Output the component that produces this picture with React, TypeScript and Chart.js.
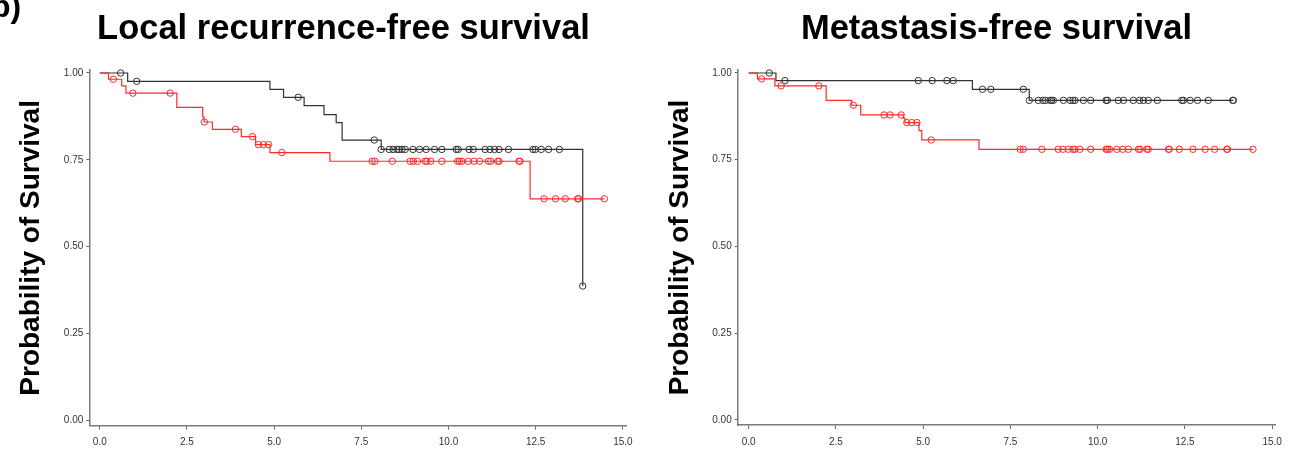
import React, { useEffect, useRef } from "react";
import { Chart, registerables } from "chart.js";

Chart.register(...registerables);

// ---------- tick definitions ----------
const xTicks = [0, 2.5, 5, 7.5, 10, 12.5, 15];
const xTickLabels = ["0.0", "2.5", "5.0", "7.5", "10.0", "12.5", "15.0"];
const yTicks = [0, 0.25, 0.5, 0.75, 1];
const yTickLabels = ["0.00", "0.25", "0.50", "0.75", "1.00"];

// ---------- Local recurrence-free survival ----------
const lrfsBlackTimes = [0, 0.8, 4.88, 5.27, 5.86, 6.43, 6.78, 6.95, 8.07, 13.85];
const lrfsBlackSurv = [1.0, 0.976, 0.953, 0.93, 0.906, 0.88, 0.857, 0.807, 0.78, 0.387];
const lrfsBlackCensor = [0.6, 1.06, 5.69, 7.87, 8.07, 8.3, 8.41, 8.52, 8.58, 8.67, 8.76, 8.98, 9.17, 9.36, 9.6, 9.81, 10.22, 10.28, 10.59, 10.71, 11.05, 11.19, 11.32, 11.45, 11.72, 12.42, 12.49, 12.66, 12.87, 13.18, 13.85];

const lrfsRedTimes = [0, 0.25, 0.63, 0.75, 2.21, 2.95, 2.99, 3.23, 4.06, 4.47, 4.88, 6.6, 12.34, 14.47];
const lrfsRedSurv = [1.0, 0.982, 0.963, 0.942, 0.901, 0.874, 0.859, 0.838, 0.817, 0.794, 0.771, 0.746, 0.638, 0.638];
const lrfsRedCensor = [0.39, 0.95, 2.02, 3.0, 3.89, 4.38, 4.55, 4.69, 4.84, 5.22, 7.81, 7.89, 8.39, 8.9, 8.99, 9.11, 9.33, 9.38, 9.49, 9.81, 10.26, 10.31, 10.38, 10.57, 10.73, 10.89, 11.14, 11.21, 11.41, 11.45, 12.02, 12.05, 12.74, 13.07, 13.35, 13.7, 13.73, 14.47];

// ---------- Metastasis-free survival ----------
const mfsBlackTimes = [0, 0.78, 6.41, 8.04, 13.89];
const mfsBlackSurv = [1.0, 0.978, 0.953, 0.921, 0.921];
const mfsBlackCensor = [0.59, 1.04, 4.86, 5.26, 5.68, 5.86, 6.7, 6.94, 7.87, 8.04, 8.3, 8.43, 8.51, 8.64, 8.68, 8.73, 9.02, 9.21, 9.29, 9.35, 9.59, 9.8, 10.24, 10.28, 10.59, 10.74, 11.02, 11.2, 11.31, 11.45, 11.71, 12.41, 12.46, 12.65, 12.86, 13.17, 13.87, 13.89];

const mfsRedTimes = [0, 0.25, 0.75, 2.22, 2.95, 3.21, 4.43, 4.48, 4.88, 4.96, 6.6, 14.45];
const mfsRedSurv = [1.0, 0.983, 0.963, 0.921, 0.907, 0.879, 0.87, 0.857, 0.834, 0.807, 0.78, 0.78];
const mfsRedCensor = [0.37, 0.93, 2.01, 3.0, 3.88, 4.05, 4.37, 4.53, 4.67, 4.82, 5.23, 7.78, 7.87, 8.4, 8.87, 9.0, 9.16, 9.29, 9.35, 9.49, 9.8, 10.24, 10.28, 10.34, 10.55, 10.72, 10.88, 11.17, 11.22, 11.41, 11.45, 12.03, 12.05, 12.34, 12.73, 13.08, 13.35, 13.7, 13.72, 14.45];

const BLACK = "#333333";
const RED = "#ff2a2a";
const FONT = '"Liberation Sans", Arial, sans-serif';

function survAt(times: number[], surv: number[], t: number) {
  let v = surv[0];
  for (let i = 0; i < times.length; i++) {
    if (times[i] <= t + 1e-9) v = surv[i];
  }
  return v;
}

function stepPoints(times: number[], surv: number[]) {
  return times.map((t, i) => ({ x: t, y: surv[i] }));
}

function censorPoints(times: number[], surv: number[], censor: number[]) {
  return censor.map((t) => ({ x: t, y: survAt(times, surv, t) }));
}

type Cfg = {
  blackTimes: number[];
  blackSurv: number[];
  blackCensor: number[];
  redTimes: number[];
  redSurv: number[];
  redCensor: number[];
  axisLeft: number;
  axisRight: number;
  axisBottom: number;
  xMin: number;
  xMax: number;
  titlePad: number;
};

function KMChart({ cfg, left }: { cfg: Cfg; left: number }) {
  const ref = useRef<HTMLCanvasElement | null>(null);
  useEffect(() => {
    if (!ref.current) return;
    const W = 648;
    const H = 449;
    const lineDs = (pts: any[], color: string) => ({
      type: "line" as const,
      data: pts,
      borderColor: color,
      borderWidth: 1.2,
      stepped: "before" as const,
      pointRadius: 0,
      fill: false,
      clip: false,
    });
    const censorDs = (pts: any[], color: string) => ({
      type: "line" as const,
      data: pts,
      showLine: false,
      pointRadius: 3.2,
      pointBorderWidth: 1,
      pointBorderColor: color,
      pointBackgroundColor: "rgba(0,0,0,0)",
      pointStyle: "circle" as const,
      clip: false,
    });
    const chart = new Chart(ref.current, {
      type: "line",
      data: {
        datasets: [
          censorDs(censorPoints(cfg.redTimes, cfg.redSurv, cfg.redCensor), RED),
          lineDs(stepPoints(cfg.redTimes, cfg.redSurv), RED),
          censorDs(censorPoints(cfg.blackTimes, cfg.blackSurv, cfg.blackCensor), BLACK),
          lineDs(stepPoints(cfg.blackTimes, cfg.blackSurv), BLACK),
        ] as any,
      },
      options: {
        responsive: false,
        animation: false,
        events: [],
        layout: { padding: { left: 0, top: 70, right: W - cfg.axisRight, bottom: 0 } },
        plugins: { legend: { display: false }, tooltip: { enabled: false }, title: { display: false } },
        scales: {
          x: {
            type: "linear",
            min: cfg.xMin,
            max: cfg.xMax,
            afterBuildTicks: (s: any) => {
              s.ticks = xTicks.map((v) => ({ value: v }));
            },
            afterFit: (s: any) => {
              s.height = H - cfg.axisBottom;
            },
            ticks: {
              autoSkip: false,
              maxRotation: 0,
              padding: 7,
              color: "#333",
              font: { family: FONT, size: 10 },
              callback: (v: any) => xTickLabels[xTicks.indexOf(Number(v))] ?? "",
            },
            grid: { drawOnChartArea: false, drawTicks: true, tickLength: 4, color: "#666", lineWidth: 1 },
            border: { display: true, color: "#7a7a7a", width: 1.5 },
          },
          y: {
            type: "linear",
            min: -0.015,
            max: 1.0086,
            afterBuildTicks: (s: any) => {
              s.ticks = yTicks.map((v) => ({ value: v }));
            },
            afterFit: (s: any) => {
              s.width = cfg.axisLeft;
            },
            ticks: {
              padding: 3,
              color: "#333",
              font: { family: FONT, size: 10 },
              callback: (v: any) => yTickLabels[yTicks.indexOf(Number(v))] ?? "",
            },
            title: {
              display: true,
              text: "Probability of Survival",
              color: "#000",
              font: { family: FONT, size: 28, weight: "bold" },
              padding: { top: cfg.titlePad, bottom: 0 },
            },
            grid: { drawOnChartArea: false, drawTicks: true, tickLength: 3, color: "#666", lineWidth: 1 },
            border: { display: true, color: "#7a7a7a", width: 1.5 },
          },
        },
      } as any,
    });
    return () => chart.destroy();
  }, [cfg]);
  return (
    <canvas
      ref={ref}
      width={648}
      height={449}
      style={{ position: "absolute", left, top: 0, width: 648, height: 449 }}
    />
  );
}

const leftCfg: Cfg = {
  blackTimes: lrfsBlackTimes,
  blackSurv: lrfsBlackSurv,
  blackCensor: lrfsBlackCensor,
  redTimes: lrfsRedTimes,
  redSurv: lrfsRedSurv,
  redCensor: lrfsRedCensor,
  axisLeft: 89.3,
  axisRight: 626,
  axisBottom: 425.7,
  xMin: -0.3,
  xMax: 15.09,
  titlePad: 14,
};

const rightCfg: Cfg = {
  blackTimes: mfsBlackTimes,
  blackSurv: mfsBlackSurv,
  blackCensor: mfsBlackCensor,
  redTimes: mfsRedTimes,
  redSurv: mfsRedSurv,
  redCensor: mfsRedCensor,
  axisLeft: 89.7,
  axisRight: 627.3,
  axisBottom: 425,
  xMin: -0.315,
  xMax: 15.09,
  titlePad: 15,
};

const titleStyle: React.CSSProperties = {
  position: "absolute",
  top: 9.5,
  width: 600,
  textAlign: "center",
  fontFamily: FONT,
  fontWeight: "bold",
  fontSize: 34.5,
  lineHeight: "34.5px",
  color: "#000",
  whiteSpace: "nowrap",
};

export default function App() {
  return (
    <div
      style={{
        position: "absolute",
        left: 0,
        top: 0,
        width: 1296,
        height: 449,
        overflow: "hidden",
        background: "#fff",
      }}
    >
      <KMChart cfg={leftCfg} left={0} />
      <KMChart cfg={rightCfg} left={648} />
      <div style={{ ...titleStyle, left: 343.5 - 300 }}>Local recurrence-free survival</div>
      <div style={{ ...titleStyle, left: 996.5 - 300 }}>Metastasis-free survival</div>
      <div
        style={{
          position: "absolute",
          left: -9,
          top: -10,
          fontFamily: FONT,
          fontWeight: "bold",
          fontSize: 32,
          lineHeight: "32px",
          color: "#000",
        }}
      >
        b)
      </div>
    </div>
  );
}
